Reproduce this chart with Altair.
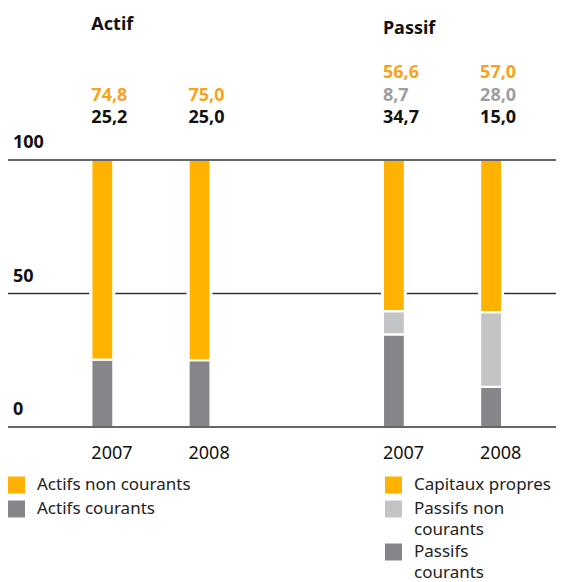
import altair as alt
import pandas as pd

# ---- data ----
years = ["2007", "2008"]
groups = ["Actif", "Passif"]
actifs_non_courants = [74.8, 75.0]
actifs_courants = [25.2, 25.0]
capitaux_propres = [56.6, 57.0]
passifs_non_courants = [8.7, 28.0]
passifs_courants = [34.7, 15.0]
ticks = [0, 50, 100]

series_names = ["Actifs non courants", "Actifs courants",
                "Capitaux propres", "Passifs non courants", "Passifs courants"]
bar_colors = ["#FFB300", "#868589", "#FFB300", "#C3C4C6", "#868589"]
text_colors = ["#F9A31A", "#111111", "#F9A31A", "#9E9EA0", "#111111"]

# stacking: list from bottom to top
stacks = {
    "Actif": [("Actifs courants", actifs_courants),
              ("Actifs non courants", actifs_non_courants)],
    "Passif": [("Passifs courants", passifs_courants),
               ("Passifs non courants", passifs_non_courants),
               ("Capitaux propres", capitaux_propres)],
}

rows = []
for gi, g in enumerate(groups):
    for yi, yr in enumerate(years):
        for k, (name, vals) in enumerate(stacks[g]):
            v = vals[yi]
            rows.append({"group": g, "year": yr, "slot": gi * 3 + yi,
                         "series": name, "value": v, "k": k,
                         "label": f"{v:.1f}".replace(".", ",")})
df = pd.DataFrame(rows)
bars_df = df[["group", "year", "slot"]].drop_duplicates().assign(total=100)

# ---- layout ----
W, H = 548, 574
PX = 2.67          # pixels per unit
Y0 = 419           # pixel of value 0
STEP = 99          # pixels between bar slots
X0 = 91            # pixel of slot 0
FONT = "Noto Sans"

xs = alt.Scale(domain=[-X0 / STEP, (W - X0) / STEP], nice=False, zero=False)
ys = alt.Scale(domain=[(Y0 - H) / PX, Y0 / PX], nice=False, zero=False)
X = alt.X("slot:Q", scale=xs, axis=None)

base = alt.Chart(df)

grid_df = pd.DataFrame({"v": ticks})
grid50 = alt.Chart(grid_df).transform_filter("datum.v != 0 && datum.v != 100").mark_rule(
    color="#333333", strokeWidth=1.5).encode(
    y=alt.Y("v:Q", scale=ys, axis=None), x=alt.value(0), x2=alt.value(W))
grid_edges = alt.Chart(grid_df).transform_filter("datum.v == 0 || datum.v == 100").mark_rule(
    color="#333333", strokeWidth=1.5).encode(
    y=alt.Y("v:Q", scale=ys, axis=None), x=alt.value(0), x2=alt.value(W))
tick_labels = alt.Chart(grid_df).mark_text(
    align="left", baseline="middle", dy=-17, font=FONT, fontSize=18,
    fontWeight="bold", color="#111111").encode(
    y=alt.Y("v:Q", scale=ys, axis=None), x=alt.value(5), text="v:N")

bg = alt.Chart(bars_df).mark_bar(size=26, color="white").encode(
    x=X, y=alt.Y("total:Q", scale=ys, axis=None), y2=alt.datum(0))

bars = base.mark_bar(size=22, stroke="white", strokeWidth=2.2).encode(
    x=X,
    y=alt.Y("value:Q", stack="zero", scale=ys, axis=None),
    color=alt.Color("series:N", scale=alt.Scale(domain=series_names, range=bar_colors), legend=None),
    order=alt.Order("k:Q", sort="ascending"),
)

value_layers = []
for k in range(3):
    value_layers.append(
        base.transform_filter(f"datum.k == {k}").mark_text(
            align="left", baseline="middle", dx=-11, font=FONT, fontSize=18,
            fontWeight="bold").encode(
            x=X, y=alt.value(110 - 22.5 * k), text="label:N",
            color=alt.Color("series:N", scale=alt.Scale(domain=series_names, range=text_colors), legend=None))
    )

year_labels = alt.Chart(bars_df).mark_text(
    align="left", baseline="middle", dx=-11, font=FONT, fontSize=18,
    color="#111111").encode(x=X, y=alt.value(446), text="year:N")

title_layers = []
for g, ty in zip(groups, [16.5, 20.5]):
    tdf = bars_df[(bars_df["year"] == years[0]) & (bars_df["group"] == g)]
    title_layers.append(alt.Chart(tdf).mark_text(
        align="left", baseline="middle", dx=-11, font=FONT, fontSize=18,
        fontWeight="bold", color="#111111").encode(
        x=X, y=alt.value(ty), text="group:N"))

# legend (manual)
legend_layers = []
LINE = 21
legend_spec = [
    (0, 477, "Actifs non courants", ["Actifs non courants"]),
    (0, 501, "Actifs courants", ["Actifs courants"]),
    (377, 477, "Capitaux propres", ["Capitaux propres"]),
    (377, 501, "Passifs non courants", ["Passifs non", "courants"]),
    (377, 544, "Passifs courants", ["Passifs", "courants"]),
]
for lx, ly, name, lines in legend_spec:
    col = bar_colors[series_names.index(name)]
    one = pd.DataFrame({"s": [name]})
    legend_layers.append(alt.Chart(one).mark_rect(color=col).encode(
        x=alt.value(lx), x2=alt.value(lx + 17),
        y=alt.value(ly - 8.5), y2=alt.value(ly + 8.5)))
    for li, line in enumerate(lines):
        legend_layers.append(alt.Chart(pd.DataFrame({"t": [line]})).mark_text(
            align="left", baseline="middle", font=FONT, fontSize=17,
            color="#222222").encode(
            x=alt.value(lx + 29), y=alt.value(ly + LINE * li), text="t:N"))

chart = alt.layer(
    grid50, bg, bars, grid_edges, tick_labels, *value_layers, year_labels, *title_layers,
    *legend_layers
).resolve_scale(color="independent").properties(
    width=W, height=H, padding=0, autosize="none"
).configure_view(stroke=None)

chart.save("out.html", embed_options={"renderer": "svg", "actions": False})
